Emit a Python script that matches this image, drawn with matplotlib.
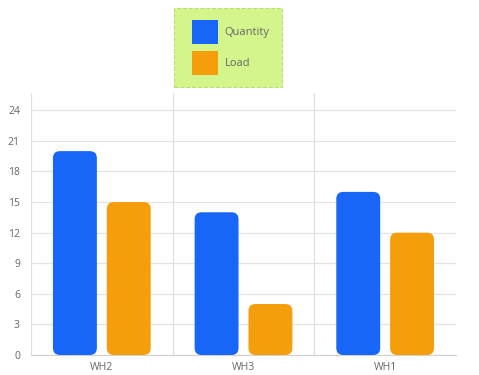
import matplotlib
matplotlib.use('Agg')
import matplotlib.pyplot as plt
from matplotlib.patches import FancyBboxPatch, Patch
from matplotlib.legend_handler import HandlerPatch
import numpy as np

# Dados do gráfico
categorias = ['WH2', 'WH3', 'WH1']
quantity = [20, 14, 16]
load = [15, 5, 12]
series_names = ['Quantity', 'Load']
cores = ['#1766f7', '#f59e0b']

plt.rcParams['font.family'] = ['Open Sans', 'DejaVu Sans']

fig = plt.figure(figsize=(4.79, 3.75), dpi=100)
ax = fig.add_axes([31 / 479, 1 - 355 / 375, 425 / 479, 262 / 375])

ymax = 25.7
ax.set_xlim(-0.5, len(categorias) - 0.5)
ax.set_ylim(0, ymax)

# razão px/unidade para cantos arredondados
ax_w_px = 425
ax_h_px = 262
px_x = ax_w_px / len(categorias)
px_y = ax_h_px / ymax
raio_px = 7
r = raio_px / px_x
aspecto = px_x / px_y

largura = 0.31
offset = 0.19
x = np.arange(len(categorias))
for valores, desloc, cor in [(quantity, -offset, cores[0]), (load, offset, cores[1])]:
    for xi, v in zip(x, valores):
        p = FancyBboxPatch((xi + desloc - largura / 2, 0), largura, v,
                           boxstyle='round,pad=0,rounding_size=%f' % r,
                           mutation_aspect=aspecto,
                           facecolor=cor, edgecolor='none', zorder=3)
        ax.add_patch(p)

# grade
ax.set_yticks(np.arange(0, 25, 3))
ax.yaxis.grid(True, color='#e3e3e3', linewidth=0.9, zorder=0)
for xv in [-0.5, 0.5, 1.5]:
    ax.axvline(xv, color='#e0e0e0', linewidth=0.9, zorder=0)

ax.set_xticks(x)
ax.set_xticklabels(categorias)
for s in ['top', 'right', 'left']:
    ax.spines[s].set_visible(False)
ax.spines['bottom'].set_color('#d0d0d0')
ax.tick_params(axis='both', length=0, labelsize=7.5, colors='#666666')
ax.tick_params(axis='y', pad=8)
ax.tick_params(axis='x', pad=5)

# legenda (xpad dá um recuo extra à esquerda dos quadrados)
handles = [Patch(facecolor=c, edgecolor='none') for c in cores]
leg = fig.legend(handles, series_names, loc='upper left',
                 bbox_to_anchor=(174 / 479, 1 - 8 / 375),
                 fontsize=8, handlelength=2.9, handleheight=2.95,
                 labelspacing=0.6, borderpad=1.1, handletextpad=0.55,
                 fancybox=False, facecolor='#d3f58c', edgecolor='#b8e070',
                 framealpha=1, borderaxespad=0,
                 handler_map={Patch: HandlerPatch(xpad=0.55)})
leg.get_frame().set_linestyle('--')
leg.get_frame().set_linewidth(0.8)
for t in leg.get_texts():
    t.set_color('#666666')

plt.savefig('out.png', dpi=100)
